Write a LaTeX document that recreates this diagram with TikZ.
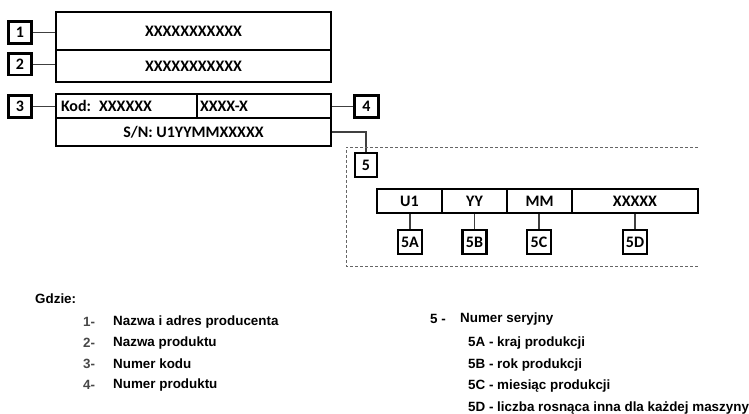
\documentclass[tikz,border=0pt]{standalone}
\usepackage{fontspec}
\setmainfont{Liberation Sans}
\newfontfamily\calfont{Carlito}
\begin{document}
\begin{tikzpicture}[x=1pt,y=-1pt,
  cell/.style={draw=black, line width=2.6pt, inner sep=0pt, font=\calfont\bfseries\fontsize{16}{18}\selectfont},
  lab/.style={draw=black, line width=2.6pt, minimum width=23.5pt, minimum height=21.5pt, inner sep=0pt, font=\calfont\bfseries\fontsize{16}{18}\selectfont},
  conn/.style={draw=black!75, line width=1.3pt},
  dashbox/.style={draw=black!60, line width=0.9pt, dash pattern=on 3pt off 2pt},
  legend/.style={anchor=west, inner sep=0pt, font=\bfseries\fontsize{13.4}{15}\selectfont},
  num/.style={legend, text=black!72}
]
\useasboundingbox (0,0) rectangle (749,414);

% top box
\node[cell, minimum width=275pt, minimum height=38pt] (r1) at (193.5,31) {XXXXXXXXXXX};
\node[cell, minimum width=275pt, minimum height=32pt] (r2) at (193.5,66) {XXXXXXXXXXX};
% second box
\node[cell, minimum width=141pt, minimum height=24pt, text width=131pt, align=left] (kod) at (126.5,106) {Kod: XXXXXX};
\node[cell, minimum width=134pt, minimum height=24pt, text width=128pt, align=left] (pn) at (264,106) {XXXX-X};
\node[cell, minimum width=275pt, minimum height=28pt] (sn) at (193.5,132) {S/N: U1YYMMXXXXX};

% labels
\node[lab] (l1) at (20,32.5) {1};
\node[lab] (l2) at (20,64.2) {2};
\node[lab] (l3) at (20,106.5) {3};
\node[lab] (l4) at (366.5,106.5) {4};
\node[lab, minimum width=22pt, minimum height=24pt] (l5) at (366,165) {5};

\draw[conn] (l1.east) -- (l1.east -| r1.west);
\draw[conn] (l2.east) -- (l2.east -| r2.west);
\draw[conn] (l3.east) -- (l3.east -| kod.west);
\draw[conn] (l4.west) -- (l4.west -| pn.east);
\draw[conn] (sn.east) -| (l5.north);

% dashed frame
\coordinate (d1) at (698,147);
\coordinate (d2) at (346,147);
\coordinate (d3) at (346,266);
\coordinate (d4) at (698,266);
\draw[dashbox] (d1) -- (d2) -- (d3) -- (d4);

% serial cells
\node[cell, minimum width=65pt, minimum height=24pt] (u1) at (409.5,201) {U1};
\node[cell, minimum width=65pt, minimum height=24pt] (yy) at (474.5,201) {YY};
\node[cell, minimum width=65pt, minimum height=24pt] (mm) at (539.5,201) {MM};
\node[cell, minimum width=126pt, minimum height=24pt] (xs) at (635,201) {XXXXX};

\node[lab, minimum width=24pt, minimum height=24pt] (a5) at (410,242) {5A};
\node[lab, minimum width=24pt, minimum height=24pt] (b5) at (474.5,242) {5B};
\node[lab, minimum width=24pt, minimum height=24pt] (c5) at (539,242) {5C};
\node[lab, minimum width=24pt, minimum height=24pt] (e5) at (635,242) {5D};

\draw[conn] (a5.north) -- (a5.north |- u1.south);
\draw[conn] (b5.north) -- (b5.north |- yy.south);
\draw[conn] (c5.north) -- (c5.north |- mm.south);
\draw[conn] (e5.north) -- (e5.north |- xs.south);

% legend
\node[legend] (g) at (35,299) {Gdzie:};
\node[num] (n1) at (83,322) {1-};
\node[legend] (t1) at (113,322) {Nazwa i adres producenta};
\node[num] (n2) at (83,343) {2-};
\node[legend] (t2) at (113,343) {Nazwa produktu};
\node[num] (n3) at (83,364) {3-};
\node[legend] (t3) at (113,364) {Numer kodu};
\node[num] (n4) at (83,385) {4-};
\node[legend] (t4) at (113,385) {Numer produktu};

\node[legend] (n5) at (430,319) {5 -};
\node[legend] (t5) at (460,319) {Numer seryjny};
\node[legend] (t5a) at (468,343) {5A - kraj produkcji};
\node[legend] (t5b) at (468,365) {5B - rok produkcji};
\node[legend] (t5c) at (468,386) {5C - miesiąc produkcji};
\node[legend] (t5d) at (468,408) {5D - liczba rosnąca inna dla każdej maszyny};
\end{tikzpicture}
\end{document}
